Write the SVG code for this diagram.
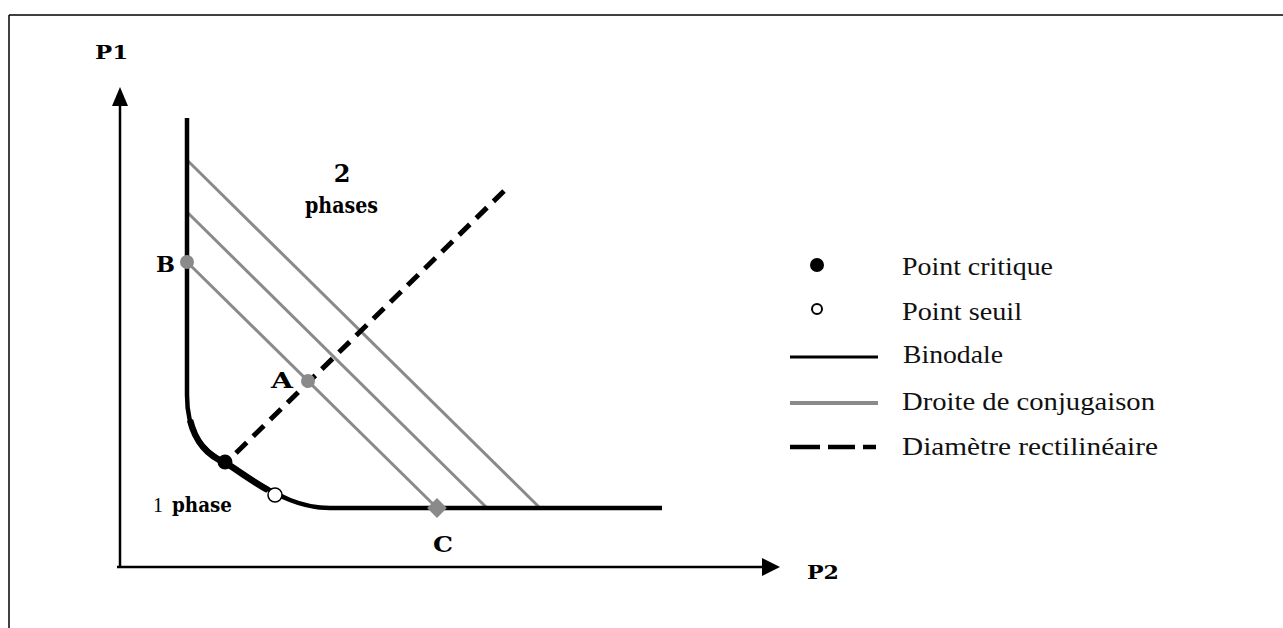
<svg xmlns="http://www.w3.org/2000/svg" width="1283" height="628" viewBox="0 0 1283 628">
<defs>
<style>
.bold{font-family:"DejaVu Serif","Liberation Serif",serif;font-weight:bold;fill:#000}
.leg{font-family:"Liberation Serif","Times New Roman",serif;font-size:25px;fill:#111}
.tie{stroke:#8a8a8a;stroke-width:3;fill:none}
.ax{stroke:#000;stroke-width:2.5;fill:none}
.gp{fill:#8a8a8a}
</style>
</defs>
<rect x="0" y="0" width="1283" height="628" fill="#fff"/>
<g id="frame">
<line x1="9" y1="15" x2="1283" y2="15" stroke="#000" stroke-width="1.5"/>
<line x1="9" y1="15" x2="9" y2="628" stroke="#000" stroke-width="1.5"/>
</g>
<g id="axes">
<line class="ax" x1="120" y1="567" x2="120" y2="100"/>
<polygon points="120,87 112,106 128,106" fill="#000"/>
<line class="ax" x1="117" y1="567" x2="766" y2="567"/>
<polygon points="780,567 762,558 762,576" fill="#000"/>
<text id="P1" class="bold" x="95" y="59" font-size="18" textLength="33" lengthAdjust="spacingAndGlyphs">P1</text>
<text id="P2" class="bold" x="807" y="579" font-size="19" textLength="32" lengthAdjust="spacingAndGlyphs">P2</text>
</g>
<g id="connectors">
<line class="tie" x1="187" y1="160" x2="540" y2="508"/>
<line class="tie" x1="187" y1="212" x2="487" y2="508"/>
<line class="tie" x1="187" y1="262" x2="437" y2="508"/>
<line x1="236" y1="453" x2="504" y2="191" stroke="#000" stroke-width="5" stroke-dasharray="15 9"/>
</g>
<g id="binodale">
<path d="M187,118 L187,395 C187,430 200,450 226,463 C245,475 265,490 290,500 C305,506 315,508 330,508 L662,508" stroke="#000" stroke-width="4.5" fill="none"/>
<path d="M190,420 C195,440 205,455 226,463 C240,472 255,483 268,490" stroke="#000" stroke-width="6.5" fill="none"/>
</g>
<g id="point-critique"><circle cx="225" cy="462" r="7.5" fill="#000"/></g>
<g id="point-seuil"><circle cx="275" cy="495" r="7" fill="#fff" stroke="#000" stroke-width="1.5"/></g>
<g id="B"><circle class="gp" cx="187" cy="262" r="7"/><text class="bold" x="156" y="272" font-size="22" textLength="19" lengthAdjust="spacingAndGlyphs">B</text></g>
<g id="A"><circle class="gp" cx="308" cy="381" r="7"/><text class="bold" x="271" y="388" font-size="22" textLength="22" lengthAdjust="spacingAndGlyphs">A</text></g>
<g id="C"><rect class="gp" x="430" y="501" width="14" height="14" transform="rotate(45 437 508)"/><text class="bold" x="433" y="552" font-size="22" textLength="20" lengthAdjust="spacingAndGlyphs">C</text></g>
<g id="region-2phases">
<text class="bold" x="342" y="182" font-size="24" text-anchor="middle">2</text>
<text class="bold" x="305" y="213" font-size="22" textLength="73" lengthAdjust="spacingAndGlyphs">phases</text>
</g>
<g id="region-1phase">
<text x="153" y="512" font-family="Liberation Serif,serif" font-size="20">1</text>
<text class="bold" x="172" y="512" font-size="20" textLength="60" lengthAdjust="spacingAndGlyphs">phase</text>
</g>
<g id="legend">
<circle cx="817" cy="265" r="7" fill="#000"/>
<text class="leg" x="902" y="275" textLength="151" lengthAdjust="spacingAndGlyphs">Point critique</text>
<circle cx="817" cy="309" r="5" fill="#fff" stroke="#000" stroke-width="2"/>
<text class="leg" x="902" y="320" textLength="120" lengthAdjust="spacingAndGlyphs">Point seuil</text>
<line x1="790" y1="357" x2="878" y2="357" stroke="#000" stroke-width="3"/>
<text class="leg" x="903" y="363" textLength="100" lengthAdjust="spacingAndGlyphs">Binodale</text>
<line x1="790" y1="403" x2="878" y2="403" stroke="#8a8a8a" stroke-width="4"/>
<text class="leg" x="902" y="410" textLength="253" lengthAdjust="spacingAndGlyphs">Droite de conjugaison</text>
<line x1="790" y1="447" x2="878" y2="447" stroke="#000" stroke-width="4.5" stroke-dasharray="30 8 27 8 13"/>
<text class="leg" x="902" y="455" textLength="256" lengthAdjust="spacingAndGlyphs">Diamètre rectilinéaire</text>
</g>
</svg>
